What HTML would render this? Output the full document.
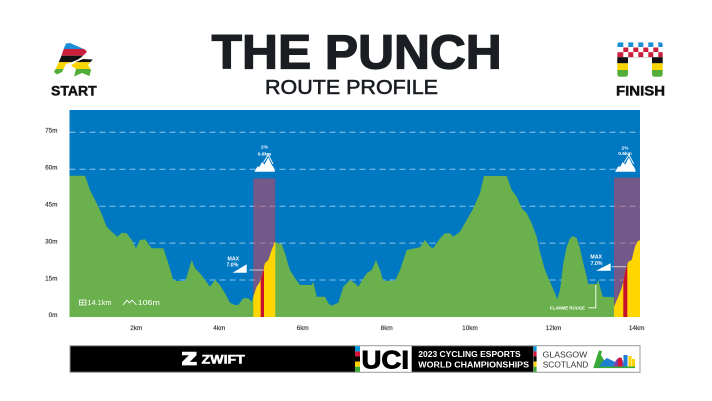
<!DOCTYPE html>
<html>
<head>
<meta charset="utf-8">
<style>
  html,body{margin:0;padding:0;background:#ffffff;}
  body{width:712px;height:401px;overflow:hidden;}
  svg{display:block;}
  text{font-family:"Liberation Sans",Arial,sans-serif;}
</style>
</head>
<body>
<svg width="712" height="401" viewBox="0 0 712 401" xmlns="http://www.w3.org/2000/svg">
  <defs>
    <clipPath id="climbs">
      <rect x="253.3" y="100" width="22" height="220"/>
      <rect x="614" y="100" width="26" height="220"/>
    </clipPath>
    <clipPath id="startclip">
      <polygon points="66,43.5 70,43 85,49.5 87,52 81,57.5 77,60 71,62.5 66,64 62,72 57,74.5 54,72 57,66 61,57 64,48"/>
      <polygon points="76,62 83,59 92.7,59.5 88,65 91,70 89.5,76 82,73 74,76.5 76,69 71,65.5"/>
    </clipPath>
    <clipPath id="finclip">
      <path d="M617.3,45 Q617.3,42.3 620,42.3 L660,42.3 Q662.7,42.3 662.7,45 L662.7,74 Q662.7,76.7 660,76.7 L654.7,76.7 Q652,76.7 652,74 L652,57.2 L628,57.2 L628,74 Q628,76.7 625.3,76.7 L620,76.7 Q617.3,76.7 617.3,74 Z"/>
    </clipPath>
  </defs>

  <!-- Header -->
  <text x="211.7" y="68.3" font-size="48" font-weight="700" fill="#1a1e23" stroke="#1a1e23" stroke-width="1.3" textLength="290" lengthAdjust="spacingAndGlyphs">THE PUNCH</text>
  <text x="265" y="94" font-size="20.5" font-weight="400" fill="#1a1e23" stroke="#1a1e23" stroke-width="0.6" textLength="173" lengthAdjust="spacingAndGlyphs">ROUTE PROFILE</text>

  <!-- START logo -->
  <g clip-path="url(#startclip)">
    <rect x="50" y="40" width="45" height="9" fill="#1a8fd6"/>
    <rect x="50" y="49" width="45" height="6.7" fill="#cc1f3d"/>
    <rect x="50" y="55.7" width="45" height="6.5" fill="#111111"/>
    <rect x="50" y="62.2" width="45" height="6.8" fill="#ffd500"/>
    <rect x="50" y="69" width="45" height="9" fill="#52ad3a"/>
  </g>
  <text x="51" y="95.7" font-size="13.4" font-weight="700" fill="#111" stroke="#111" stroke-width="0.4" textLength="45.7" lengthAdjust="spacingAndGlyphs">START</text>

  <!-- FINISH logo -->
  <g clip-path="url(#finclip)">
    <rect x="617" y="42" width="46" height="36" fill="#ffffff"/>
    <!-- row 1 blue -->
    <rect x="617.3" y="42.3" width="6" height="4.7" fill="#1a8fd6"/>
    <rect x="628.3" y="42.3" width="5" height="4.7" fill="#1a8fd6"/>
    <rect x="638.3" y="42.3" width="5" height="4.7" fill="#1a8fd6"/>
    <rect x="648.3" y="42.3" width="5" height="4.7" fill="#1a8fd6"/>
    <rect x="658.3" y="42.3" width="5" height="4.7" fill="#1a8fd6"/>
    <!-- row 2 red -->
    <rect x="623.3" y="47.5" width="5" height="4.5" fill="#cc1f3d"/>
    <rect x="633.3" y="47.5" width="5" height="4.5" fill="#cc1f3d"/>
    <rect x="643.3" y="47.5" width="5" height="4.5" fill="#cc1f3d"/>
    <rect x="653.3" y="47.5" width="5" height="4.5" fill="#cc1f3d"/>
    <!-- row 3 red -->
    <rect x="617.3" y="52.2" width="6" height="5" fill="#cc1f3d"/>
    <rect x="628.3" y="52.2" width="5" height="5" fill="#cc1f3d"/>
    <rect x="638.3" y="52.2" width="5" height="5" fill="#cc1f3d"/>
    <rect x="648.3" y="52.2" width="5" height="5" fill="#cc1f3d"/>
    <rect x="658.3" y="52.2" width="5" height="5" fill="#cc1f3d"/>
    <!-- legs -->
    <rect x="617" y="57.2" width="46" height="6.1" fill="#111111"/>
    <rect x="617" y="63.3" width="46" height="6.7" fill="#ffd500"/>
    <rect x="617" y="70" width="46" height="7" fill="#52ad3a"/>
  </g>
  <text x="616" y="95.7" font-size="13.4" font-weight="700" fill="#111" stroke="#111" stroke-width="0.4" textLength="49" lengthAdjust="spacingAndGlyphs">FINISH</text>

  <!-- Chart background -->
  <rect x="69.5" y="110" width="570.5" height="207" fill="#0178c2"/>

  <!-- Grid lines (blue) -->
  <g stroke="#8cc4e9" stroke-width="1" stroke-dasharray="6,4">
    <line x1="69.5" y1="132.3" x2="640" y2="132.3"/>
    <line x1="69.5" y1="169.3" x2="640" y2="169.3"/>
    <line x1="69.5" y1="206.3" x2="640" y2="206.3"/>
    <line x1="69.5" y1="243.1" x2="640" y2="243.1"/>
    <line x1="69.5" y1="280" x2="640" y2="280"/>
  </g>

  <!-- Purple climb zones -->
  <rect x="253.3" y="178.3" width="22" height="138.7" fill="#72598a"/>
  <rect x="614" y="177.5" width="26" height="139.5" fill="#72598a"/>
  <g stroke="#b4849f" stroke-width="1" stroke-dasharray="6,4" clip-path="url(#climbs)">
    <line x1="69.5" y1="206.3" x2="640" y2="206.3"/>
    <line x1="69.5" y1="243.1" x2="640" y2="243.1"/>
    <line x1="69.5" y1="280" x2="640" y2="280"/>
  </g>

  <!-- Profile -->
  <polygon id="prof" fill="#6ab04c" points="69.5,175.7 85,175.7 90,190 95,200 100,210 106.7,226.7 113.3,233.3 117.3,236.7 121.7,232.7 126.7,233.3 131.7,240 136,248.3 140,240 145,239.3 151.7,248.3 163.3,248.3 168.3,263.3 173.3,280 176.7,281 185,281 186.7,276.7 191.7,260 195,268.3 200,273.3 205,280 210,286.7 215,280 220,285 225,293.3 230,302.7 235,305 238.3,305 243.3,298.3 248.3,298.3 251.7,301.7 253.3,296.7 256.7,286.7 260,281.7 262,275 264,266.7 265,263.3 268.3,260 271.7,250 275,241.7 278.3,243.3 281.7,244 285,253.3 288.3,265 290,270 295,278.3 300,285 311.7,285 313.3,281.7 316.7,296.7 325,296.7 328.3,303.3 331.7,305.7 338.3,302.7 343.3,286.7 350,280 355,283.3 358.3,286.7 363.3,278.3 366.7,273.3 371.7,270 376,260 380,270 383.3,280.7 395,280.7 400,270 406.7,250 415,248.3 420,247.3 425,240 430,246.7 433.3,248.3 440,238.3 445,233.3 450,233.3 453.3,236.7 460,231.7 466.7,220 473.3,208.3 480,193.3 484,176 506.7,176 511.7,190 516.7,196.7 521.7,208.3 526.7,213.3 531.7,223.3 536.7,236.7 540,252 545,270 550,281.7 555,293.3 557.3,299.3 560,290 563.3,263.3 566.7,246.7 570,238.3 573.3,236 576.7,238.3 580,248.3 583.3,263.3 586.7,276.7 588.3,284 596.7,284 598.3,280 600,286.7 602.7,296.7 614,297.3 614,306.7 618.3,296.7 621.7,288.3 623.3,281.7 625,272 627.3,265 628.3,261.7 631.7,260 635,246.7 637.3,241.7 640,240 640,317 69.5,317"/>
  <g clip-path="url(#climbs)">
    <polygon fill="#ffd600" points="251.7,317 251.7,301.7 253.3,296.7 256.7,286.7 260,281.7 262,275 264,266.7 265,263.3 268.3,260 271.7,250 275,241.7 278.3,243.3 278.3,317"/>
    <polygon fill="#ffd600" points="614,317 614,306.7 618.3,296.7 621.7,288.3 623.3,281.7 625,272 627.3,265 628.3,261.7 631.7,260 635,246.7 637.3,241.7 640,240 640,317"/>
  </g>
  <!-- Red stripes -->
  <polygon fill="#c8102e" points="260.7,317 260.7,279.5 262,275 264,266.7 264,317"/>
  <polygon fill="#c8102e" points="623.3,317 623.3,281.7 625,272 627.3,265 627.3,317"/>

  <!-- Climb labels -->
  <g fill="#ffffff" font-weight="700" text-anchor="middle">
    <text x="264.5" y="148.5" font-size="4.8">2%</text>
    <text x="264.5" y="155.3" font-size="4.8">0.6km</text>
    <text x="625" y="149.3" font-size="4.8">2%</text>
    <text x="625" y="155.1" font-size="4.8">0.6km</text>
  </g>
  <!-- Mountain icons -->
  <g fill="#ffffff">
    <polygon points="254.3,171.7 257.5,166.5 259.5,166.8 262,162 264.5,164.5 268.3,157.5 271.8,165 273.5,167 275,171.7"/>
    <polygon points="615,171.7 618.2,166.5 620.2,166.8 622.7,162 625.2,164.5 629,157.5 632.5,165 634.2,167 635.7,171.7"/>
  </g>
  <g fill="none" stroke="#ffffff" stroke-width="0.9">
    <polyline points="263.5,162.5 268.3,154.8 273,164"/>
    <polyline points="624.2,162.5 629,154.8 633.7,164"/>
  </g>

  <!-- MAX labels -->
  <g fill="#ffffff" font-weight="700" text-anchor="middle" font-size="5.2">
    <text x="233.3" y="260.3">MAX</text>
    <text x="232.4" y="266.7">7.0%</text>
    <text x="596.2" y="258.3">MAX</text>
    <text x="596.6" y="264.8">7.0%</text>
  </g>
  <polygon fill="#ffffff" points="232.7,272.7 246.7,272.7 246.7,264.3"/>
  <polygon fill="#ffffff" points="596,270.8 610.7,270.8 610.7,263.3"/>
  <g stroke="#cfcfcf" stroke-width="1">
    <line x1="249.3" y1="270" x2="264" y2="270"/>
    <line x1="611.7" y1="266.7" x2="626" y2="266.7"/>
  </g>

  <!-- Flamme rouge -->
  <text x="550" y="309.4" font-size="4.3" font-weight="700" fill="#ffffff" textLength="35" lengthAdjust="spacingAndGlyphs">FLAMME ROUGE</text>
  <polyline points="588.3,307.8 595.8,307.8 595.8,285" fill="none" stroke="#ffffff" stroke-width="0.9"/>

  <!-- Stats -->
  <g fill="#ffffff">
    <rect x="79.5" y="300" width="6.5" height="5" fill="none" stroke="#ffffff" stroke-width="0.8"/>
    <line x1="79.5" y1="302.5" x2="86" y2="302.5" stroke="#ffffff" stroke-width="0.6"/>
    <line x1="82.7" y1="300" x2="82.7" y2="305" stroke="#ffffff" stroke-width="0.6"/>
    <text x="87.5" y="305.2" font-size="7.6" textLength="24" lengthAdjust="spacingAndGlyphs">14.1km</text>
    <polyline points="123,305 127,300.2 129.5,302.8 132,300.2 136.5,305" fill="none" stroke="#ffffff" stroke-width="0.9"/>
    <text x="137.6" y="305.2" font-size="7.6" textLength="22.4" lengthAdjust="spacingAndGlyphs">106m</text>
  </g>

  <!-- Y axis labels -->
  <g fill="#333333" font-size="6.4" text-anchor="end" stroke="#333333" stroke-width="0.15">
    <text x="57.5" y="132.7">75m</text>
    <text x="57.5" y="169.6">60m</text>
    <text x="57.5" y="206.6">45m</text>
    <text x="57.5" y="243.4">30m</text>
    <text x="57.5" y="280.3">15m</text>
    <text x="57.5" y="316.8">0m</text>
  </g>
  <!-- X axis labels -->
  <g fill="#333333" font-size="6.4" text-anchor="middle" stroke="#333333" stroke-width="0.15">
    <text x="136.3" y="330">2km</text>
    <text x="219.3" y="330">4km</text>
    <text x="302.7" y="330">6km</text>
    <text x="386.7" y="330">8km</text>
    <text x="470" y="330">10km</text>
    <text x="553.5" y="330">12km</text>
    <text x="636.7" y="330">14km</text>
  </g>

  <!-- Bottom banner -->
  <rect x="70" y="345.7" width="570" height="26.6" fill="#ffffff" stroke="#9a9a9a" stroke-width="1"/>
  <rect x="70.5" y="346.2" width="284.5" height="25.6" fill="#000000"/>
  <!-- Z icon -->
  <path d="M182,351.8 L196.5,351.8 L196.5,355.3 L189.8,361.9 L196.8,361.9 L196.8,365.4 L182,365.4 L182,362 L188.8,355.3 L182,355.3 Z" fill="#ffffff"/>
  <text x="201.7" y="363.4" font-size="11.6" font-weight="700" fill="#ffffff" stroke="#ffffff" stroke-width="0.5" textLength="43" lengthAdjust="spacingAndGlyphs">ZWIFT</text>

  <!-- UCI rainbow -->
  <rect x="355" y="346.2" width="5" height="5.2" fill="#0098d8"/>
  <rect x="355" y="351.4" width="5" height="5.1" fill="#d6153a"/>
  <rect x="355" y="356.5" width="5" height="5.1" fill="#000000"/>
  <rect x="355" y="361.6" width="5" height="5.1" fill="#ffd400"/>
  <rect x="355" y="366.7" width="5" height="5.1" fill="#3aa935"/>
  <text x="361.5" y="368.4" font-size="25" font-weight="700" fill="#000000" stroke="#000000" stroke-width="0.9" textLength="47.5" lengthAdjust="spacingAndGlyphs">UCI</text>
  <rect x="411.7" y="346.2" width="121.6" height="25.6" fill="#000000"/>
  <text x="418.3" y="357.2" font-size="8.6" font-weight="700" fill="#ffffff" textLength="102.4" lengthAdjust="spacingAndGlyphs">2023 CYCLING ESPORTS</text>
  <text x="418.3" y="367.3" font-size="8.6" font-weight="700" fill="#ffffff" textLength="110.7" lengthAdjust="spacingAndGlyphs">WORLD CHAMPIONSHIPS</text>
  <rect x="533.6" y="346.2" width="3" height="5.2" fill="#0098d8"/>
  <rect x="533.6" y="351.4" width="3" height="5.1" fill="#d6153a"/>
  <rect x="533.6" y="356.5" width="3" height="5.1" fill="#000000"/>
  <rect x="533.6" y="361.6" width="3" height="5.1" fill="#ffd400"/>
  <rect x="533.6" y="366.7" width="3" height="5.1" fill="#3aa935"/>
  <text x="542.7" y="357.4" font-size="8.6" fill="#333333" textLength="44.6" lengthAdjust="spacingAndGlyphs">GLASGOW</text>
  <text x="542.7" y="367.5" font-size="8.6" fill="#333333" textLength="45.6" lengthAdjust="spacingAndGlyphs">SCOTLAND</text>
  <!-- Glasgow logo approximation -->
  <polygon fill="#3aa935" points="593.5,367.5 597,356 599,350.5 602,351 601,355 604,360 606,367.5"/>
  <polygon fill="#1f7fd0" points="598,367.5 603,361 607,358 611,360 615,362 618,364 619,367.5"/>
  <polygon fill="#8a3fa0" points="613,367.5 616,360 620,357 623,361 624,367.5"/>
  <rect x="618" y="358" width="4" height="9.5" fill="#d6153a"/>
  <rect x="623.5" y="355" width="4" height="12.5" fill="#1f7fd0"/>
  <rect x="628.5" y="356" width="3" height="11.5" fill="#ffd400"/>
  <rect x="632" y="359" width="3" height="8.5" fill="#ffd400"/>
  <rect x="593.5" y="366.5" width="41.5" height="1.6" fill="#3aa935"/>
</svg>
</body>
</html>
